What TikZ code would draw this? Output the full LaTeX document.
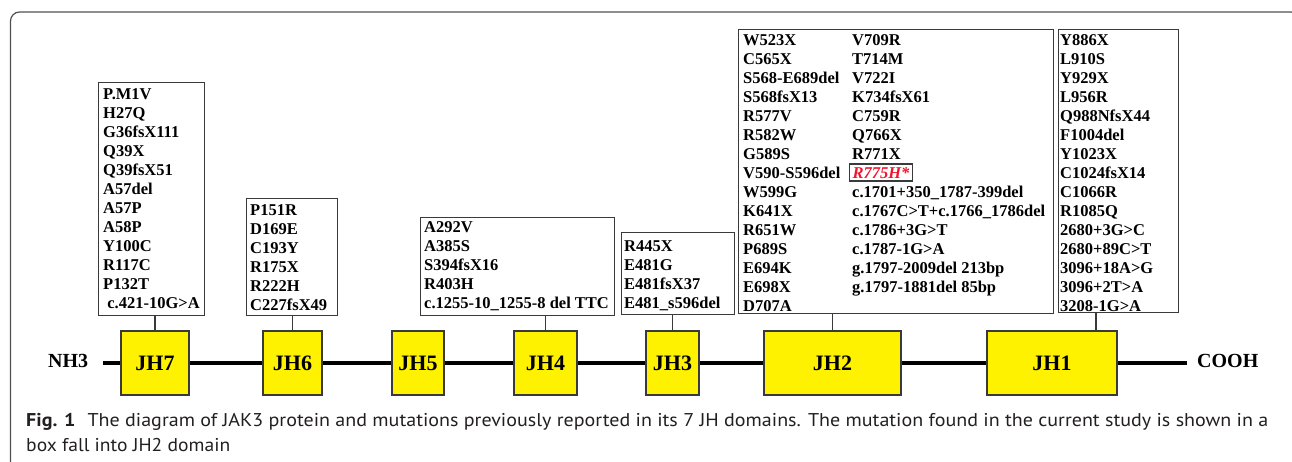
\documentclass[tikz,border=0pt]{standalone}
\usepackage{fontspec}
\usepackage{graphicx}
\newfontfamily\tnr{Liberation Serif}
\newfontfamily\capfont{PT Sans}
\definecolor{domyellow}{HTML}{FFF200}
\definecolor{boxgray}{HTML}{3A3A3A}
\definecolor{framegray}{HTML}{505050}
\definecolor{hitred}{HTML}{F0142D}
\definecolor{captext}{HTML}{231F20}
\newcommand\mutcol[4]{%
  \foreach \t [count=\i from 0] in {#4}{%
    \node[mut] (#1-\i) at (#2,#3+19*\i) {\t};}}
\newcommand\dom[4]{%
  \node[dom,minimum width=#3-#2] (#1) at ({(#2+#3)/2},363) {#4};}
\tikzset{
  mut/.style={anchor=base west,inner sep=0pt,font=\tnr\bfseries\fontsize{16.5}{19}\selectfont},
  mutbox/.style={draw=boxgray,line width=1.3pt,anchor=north west,inner sep=0pt},
  dom/.style={draw=boxgray,line width=1.2pt,fill=domyellow,minimum height=64,inner sep=0pt,
    font=\tnr\bfseries\fontsize{22}{24}\selectfont},
  link/.style={draw=boxgray,line width=1.3pt},
  mainline/.style={line width=4pt,black},
  term/.style={inner sep=0pt,font=\tnr\bfseries\fontsize{20}{22}\selectfont},
  outerframe/.style={draw=framegray,line width=1.2pt,rounded corners=9pt},
  capline/.style={inner sep=0pt,anchor=base west,text=captext,font=\capfont\fontsize{18.5}{22}\selectfont}
}
\begin{document}
\begin{tikzpicture}[x=1pt,y=-1pt]
\useasboundingbox (0,0) rectangle (1292,461);
% outer frame
\draw[outerframe] (10.5,480) -- (10.5,12) -- (1300,12) -- (1300,480);
% mutation boxes
\node[mutbox,minimum width=106,minimum height=233] (m7) at (98,82) {};
\node[mutbox,minimum width=91,minimum height=117] (m6) at (246,198) {};
\node[mutbox,minimum width=194,minimum height=98] (m4) at (420,217) {};
\node[mutbox,minimum width=113,minimum height=82] (m3) at (621,232) {};
\node[mutbox,minimum width=315,minimum height=284] (m2) at (738,29) {};
\node[mutbox,minimum width=120,minimum height=283] (m1) at (1058,29) {};
% mutation texts
\mutcol{t7}{103}{99.5}{P.M1V,H27Q,G36fsX111,Q39X,Q39fsX51,A57del,A57P,A58P,Y100C,R117C,P132T,~c.421-10G>A}
\mutcol{t6}{250}{215.5}{P151R,D169E,C193Y,R175X,R222H,C227fsX49}
\mutcol{t4}{424}{232.5}{A292V,A385S,S394fsX16,R403H,c.1255-10\_1255-8 del TTC}
\mutcol{t3}{624}{251.5}{R445X,E481G,E481fsX37,E481\_s596del}
\mutcol{t2a}{743}{45.5}{W523X,C565X,S568-E689del,S568fsX13,R577V,R582W,G589S,V590-S596del,W599G,K641X,R651W,P689S,E694K,E698X,D707A}
\mutcol{t2b}{852}{45.5}{V709R,T714M,V722I,K734fsX61,C759R,Q766X,R771X}
\node[mut,draw=boxgray,line width=1.2pt,inner xsep=3pt,inner ysep=2.5pt,text height=12pt,text depth=0pt,
  text=hitred,font=\tnr\bfseries\itshape\fontsize{16.5}{19}\selectfont] (hit) at (849,178.5) {R775H*};
\mutcol{t2c}{852}{197.5}{c.1701+350\_1787-399del,c.1767C>T+c.1766\_1786del,c.1786+3G>T,c.1787-1G>A,g.1797-2009del 213bp,g.1797-1881del 85bp}
\mutcol{t1}{1060}{45.5}{Y886X,L910S,Y929X,L956R,Q988NfsX44,F1004del,Y1023X,C1024fsX14,C1066R,R1085Q,2680+3G>C,2680+89C>T,3096+18A>G,3096+2T>A,3208-1G>A}
% terminals and main line
\node[term,anchor=west] (nh3) at (48,361) {NH3};
\node[term,anchor=west] (cooh) at (1197,361) {COOH};
\draw[mainline] ([xshift=15pt]nh3.east |- 0,363) -- ([xshift=-10pt]cooh.west |- 0,363);
% domains
\dom{jh7}{121}{189}{JH7}
\dom{jh6}{263}{322}{JH6}
\dom{jh5}{392}{444}{JH5}
\dom{jh4}{514}{577}{JH4}
\dom{jh3}{646}{699}{JH3}
\dom{jh2}{764}{901}{JH2}
\dom{jh1}{987}{1117}{JH1}
% connectors
\draw[link] (jh7.north) -- (jh7.north |- m7.south);
\draw[link] (jh6.north) -- (jh6.north |- m6.south);
\draw[link] (jh4.north) -- (jh4.north |- m4.south);
\draw[link] (jh3.north) -- (jh3.north |- m3.south);
\draw[link] (jh2.north) -- (jh2.north |- m2.south);
\coordinate (c1) at (1096,331);
\draw[link] (c1) -- (c1 |- m1.south);
% caption
\node[capline] (cap1) at (26,426) {\resizebox{1242pt}{\height}{\textbf{Fig. 1}\hspace{0.6em}The diagram of JAK3 protein and mutations previously reported in its 7 JH domains. The mutation found in the current study is shown in a}};
\node[capline] (cap2) at (26,451) {\resizebox{204pt}{\height}{box fall into JH2 domain}};
\end{tikzpicture}
\end{document}
